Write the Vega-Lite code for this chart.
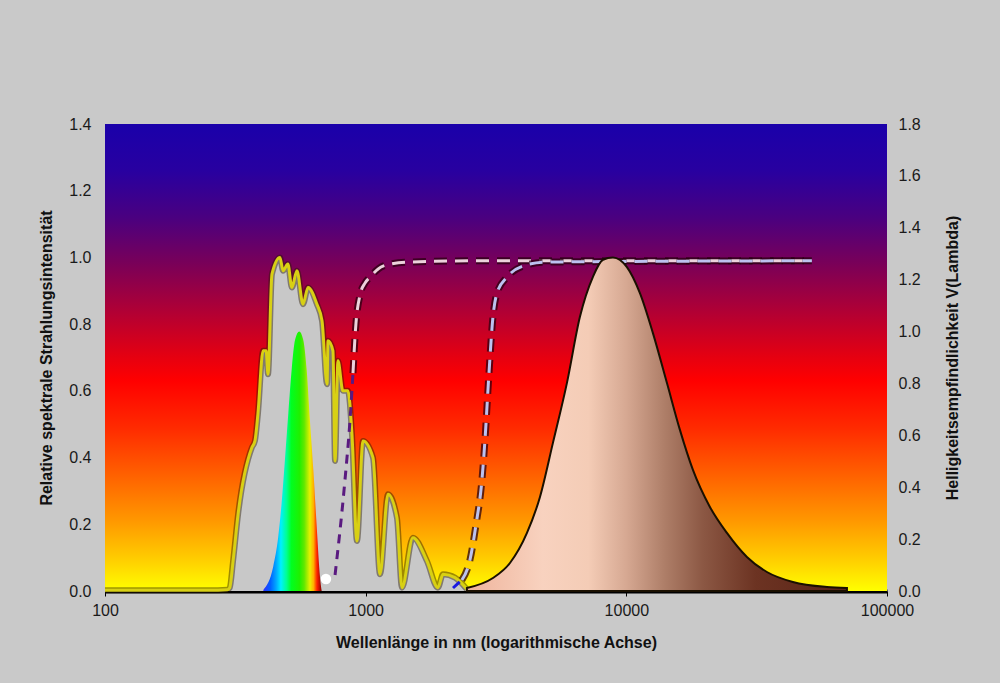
{
  "$schema": "https://vega.github.io/schema/vega-lite/v6.json",
  "width": 782,
  "height": 467,
  "padding": {"left": 38, "top": 116, "right": 61, "bottom": 36},
  "background": "#c9c9c9",
  "config": {
    "view": {"stroke": null},
    "font": "Liberation Sans",
    "axis": {
      "labelFont": "Liberation Sans",
      "labelFontSize": 16,
      "labelColor": "#1a1a1a",
      "titleFont": "Liberation Sans",
      "titleFontSize": 16,
      "titleFontWeight": "bold",
      "titleColor": "#111111",
      "grid": false
    },
    "axisX": {
      "domainColor": "#000000",
      "domainWidth": 4,
      "tickColor": "#000000",
      "tickSize": 5,
      "labelPadding": 6,
      "labelFlush": false,
      "titlePadding": 16
    },
    "axisY": {
      "domain": false,
      "ticks": false,
      "labelPadding": 14,
      "titlePadding": 14
    }
  },
  "datasets": {
    "bg": [{"x1": 100, "x2": 100000, "y1": 0, "y2": 1.4}],
    "solar": [
      {"wl": 100, "v": 0.002}, {"wl": 150, "v": 0.002}, {"wl": 200, "v": 0.002},
      {"wl": 250, "v": 0.002}, {"wl": 295, "v": 0.004}, {"wl": 301, "v": 0.01},
      {"wl": 310, "v": 0.09}, {"wl": 324, "v": 0.23}, {"wl": 366, "v": 0.43},
      {"wl": 376, "v": 0.45}, {"wl": 386, "v": 0.53}, {"wl": 404, "v": 0.72},
      {"wl": 415, "v": 0.72}, {"wl": 422, "v": 0.65}, {"wl": 437, "v": 0.95},
      {"wl": 469, "v": 1.0}, {"wl": 482, "v": 0.96}, {"wl": 503, "v": 0.98},
      {"wl": 521, "v": 0.91}, {"wl": 545, "v": 0.96}, {"wl": 575, "v": 0.86},
      {"wl": 601, "v": 0.91}, {"wl": 650, "v": 0.86}, {"wl": 680, "v": 0.81},
      {"wl": 711, "v": 0.62}, {"wl": 717, "v": 0.75}, {"wl": 749, "v": 0.72},
      {"wl": 763, "v": 0.39}, {"wl": 783, "v": 0.69}, {"wl": 818, "v": 0.6},
      {"wl": 855, "v": 0.6}, {"wl": 886, "v": 0.47}, {"wl": 926, "v": 0.15},
      {"wl": 977, "v": 0.45}, {"wl": 1067, "v": 0.4}, {"wl": 1135, "v": 0.05},
      {"wl": 1218, "v": 0.29}, {"wl": 1318, "v": 0.22}, {"wl": 1378, "v": 0.01},
      {"wl": 1518, "v": 0.16}, {"wl": 1718, "v": 0.09}, {"wl": 1893, "v": 0.01},
      {"wl": 1980, "v": 0.05}, {"wl": 2201, "v": 0.04}, {"wl": 2447, "v": 0.005}
    ],
    "c1a": [
      {"wl": 763, "v": 0.048}, {"wl": 833, "v": 0.333}, {"wl": 871, "v": 0.513},
      {"wl": 894, "v": 0.653}
    ],
    "c1b": [
      {"wl": 894, "v": 0.653}, {"wl": 918, "v": 0.803}, {"wl": 951, "v": 0.887},
      {"wl": 994, "v": 0.923}, {"wl": 1039, "v": 0.941}, {"wl": 1165, "v": 0.974},
      {"wl": 1440, "v": 0.986}, {"wl": 3000, "v": 0.99}, {"wl": 51500, "v": 0.99}
    ],
    "c2a": [
      {"wl": 2163, "v": 0.009}, {"wl": 2340, "v": 0.033}
    ],
    "c2b": [
      {"wl": 2340, "v": 0.033}, {"wl": 2512, "v": 0.093}, {"wl": 2649, "v": 0.198},
      {"wl": 2793, "v": 0.333}, {"wl": 2869, "v": 0.453}, {"wl": 2972, "v": 0.653},
      {"wl": 3078, "v": 0.821}, {"wl": 3190, "v": 0.893}, {"wl": 3486, "v": 0.941},
      {"wl": 4012, "v": 0.974}, {"wl": 4872, "v": 0.986}, {"wl": 51500, "v": 0.99}
    ],
    "thermal": [
      {"wl": 2446, "v": 0.009}, {"wl": 3078, "v": 0.039}, {"wl": 3577, "v": 0.084},
      {"wl": 4157, "v": 0.174}, {"wl": 4663, "v": 0.282}, {"wl": 5229, "v": 0.444},
      {"wl": 5918, "v": 0.624}, {"wl": 6637, "v": 0.822}, {"wl": 7445, "v": 0.942},
      {"wl": 8133, "v": 0.993}, {"wl": 8883, "v": 1.0}, {"wl": 10053, "v": 0.971},
      {"wl": 11276, "v": 0.893}, {"wl": 12648, "v": 0.773}, {"wl": 14309, "v": 0.624},
      {"wl": 16054, "v": 0.483}, {"wl": 18009, "v": 0.363}, {"wl": 20923, "v": 0.252},
      {"wl": 24316, "v": 0.174}, {"wl": 29013, "v": 0.102}, {"wl": 34618, "v": 0.057},
      {"wl": 43551, "v": 0.027}, {"wl": 58841, "v": 0.012}, {"wl": 70198, "v": 0.009}
    ],
    "dot": [{"wl": 704, "v": 0.036}],
    "vlambda": [
      {"wl": 405, "v": 0.004}, {"wl": 442, "v": 0.094}, {"wl": 462, "v": 0.209},
      {"wl": 476, "v": 0.339}, {"wl": 490, "v": 0.505}, {"wl": 505, "v": 0.686},
      {"wl": 520, "v": 0.852}, {"wl": 536, "v": 0.968}, {"wl": 556, "v": 1.0},
      {"wl": 576, "v": 0.968}, {"wl": 594, "v": 0.852}, {"wl": 611, "v": 0.659},
      {"wl": 630, "v": 0.466}, {"wl": 649, "v": 0.247}, {"wl": 668, "v": 0.054},
      {"wl": 678, "v": 0.0}
    ]
  },
  "layer": [
    {
      "layer": [
        {
          "data": {"name": "bg"},
          "mark": {
            "type": "rect",
            "fill": {
              "gradient": "linear", "x1": 0, "y1": 0, "x2": 0, "y2": 1,
              "stops": [
                {"offset": 0, "color": "#1a00aa"},
                {"offset": 0.1, "color": "#2800a0"},
                {"offset": 0.2, "color": "#4a0080"},
                {"offset": 0.3, "color": "#7a0058"},
                {"offset": 0.4, "color": "#b00035"},
                {"offset": 0.5, "color": "#e60010"},
                {"offset": 0.55, "color": "#ff0000"},
                {"offset": 0.65, "color": "#ff2a00"},
                {"offset": 0.75, "color": "#ff6000"},
                {"offset": 0.85, "color": "#ff9800"},
                {"offset": 0.93, "color": "#ffcc00"},
                {"offset": 1, "color": "#ffff00"}
              ]
            }
          },
          "encoding": {
            "x": {"field": "x1", "type": "quantitative", "scale": {"type": "log", "domain": [100, 100000], "nice": false}, "title": "Wellenlänge in nm (logarithmische Achse)", "axis": {"values": [100, 1000, 10000, 100000], "format": "d"}},
            "x2": {"field": "x2"},
            "y": {"field": "y1", "type": "quantitative", "scale": {"domain": [0, 1.4], "nice": false, "zero": true}, "title": "Relative spektrale Strahlungsintensität", "axis": {"values": [0, 0.2, 0.4, 0.6, 0.8, 1.0, 1.2, 1.4], "format": ".1f", "orient": "left"}},
            "y2": {"field": "y2"}
          }
        },
        {
          "data": {"name": "solar"},
          "mark": {"type": "area", "fill": "#c8c8c8", "interpolate": "monotone"},
          "encoding": {
            "x": {"field": "wl", "type": "quantitative", "title": "Wellenlänge in nm (logarithmische Achse)"},
            "y": {"field": "v", "type": "quantitative", "title": "Relative spektrale Strahlungsintensität"}
          }
        },
        {
          "data": {"name": "solar"},
          "mark": {"type": "line", "stroke": "#2a1a00", "strokeWidth": 6, "opacity": 0.45, "interpolate": "monotone"},
          "encoding": {
            "x": {"field": "wl", "type": "quantitative", "title": "Wellenlänge in nm (logarithmische Achse)"},
            "y": {"field": "v", "type": "quantitative", "title": "Relative spektrale Strahlungsintensität"}
          }
        },
        {
          "data": {"name": "solar"},
          "mark": {"type": "line", "stroke": "#d8d014", "strokeWidth": 3, "interpolate": "monotone"},
          "encoding": {
            "x": {"field": "wl", "type": "quantitative", "title": "Wellenlänge in nm (logarithmische Achse)"},
            "y": {"field": "v", "type": "quantitative", "title": "Relative spektrale Strahlungsintensität"}
          }
        },
        {
          "data": {"name": "c1a"},
          "mark": {"type": "line", "stroke": "#5a1a80", "strokeWidth": 3, "strokeDash": [9, 7], "interpolate": "monotone"},
          "encoding": {
            "x": {"field": "wl", "type": "quantitative", "title": "Wellenlänge in nm (logarithmische Achse)"},
            "y": {"field": "v", "type": "quantitative", "title": "Relative spektrale Strahlungsintensität"}
          }
        },
        {
          "data": {"name": "c1b"},
          "mark": {"type": "line", "stroke": "#2a0010", "strokeWidth": 7, "opacity": 0.75, "strokeDash": [13, 8], "interpolate": "monotone"},
          "encoding": {
            "x": {"field": "wl", "type": "quantitative", "title": "Wellenlänge in nm (logarithmische Achse)"},
            "y": {"field": "v", "type": "quantitative", "title": "Relative spektrale Strahlungsintensität"}
          }
        },
        {
          "data": {"name": "c1b"},
          "mark": {"type": "line", "stroke": "#ecd2dc", "strokeWidth": 3, "strokeDash": [13, 8], "interpolate": "monotone"},
          "encoding": {
            "x": {"field": "wl", "type": "quantitative", "title": "Wellenlänge in nm (logarithmische Achse)"},
            "y": {"field": "v", "type": "quantitative", "title": "Relative spektrale Strahlungsintensität"}
          }
        },
        {
          "data": {"name": "c2a"},
          "mark": {"type": "line", "stroke": "#1a1ae0", "strokeWidth": 3, "strokeDash": [9, 6]},
          "encoding": {
            "x": {"field": "wl", "type": "quantitative", "title": "Wellenlänge in nm (logarithmische Achse)"},
            "y": {"field": "v", "type": "quantitative", "title": "Relative spektrale Strahlungsintensität"}
          }
        },
        {
          "data": {"name": "c2b"},
          "mark": {"type": "line", "stroke": "#2a0010", "strokeWidth": 7, "opacity": 0.75, "strokeDash": [13, 8], "interpolate": "monotone"},
          "encoding": {
            "x": {"field": "wl", "type": "quantitative", "title": "Wellenlänge in nm (logarithmische Achse)"},
            "y": {"field": "v", "type": "quantitative", "title": "Relative spektrale Strahlungsintensität"}
          }
        },
        {
          "data": {"name": "c2b"},
          "mark": {"type": "line", "stroke": "#bcc2f0", "strokeWidth": 3, "strokeDash": [13, 8], "interpolate": "monotone"},
          "encoding": {
            "x": {"field": "wl", "type": "quantitative", "title": "Wellenlänge in nm (logarithmische Achse)"},
            "y": {"field": "v", "type": "quantitative", "title": "Relative spektrale Strahlungsintensität"}
          }
        },
        {
          "data": {"name": "thermal"},
          "mark": {
            "type": "area",
            "interpolate": "monotone",
            "stroke": "#1a1000",
            "strokeWidth": 2,
            "fill": {
              "gradient": "linear", "x1": 0, "y1": 0, "x2": 1, "y2": 0,
              "stops": [
                {"offset": 0, "color": "#efb49c"},
                {"offset": 0.2, "color": "#f8d2bf"},
                {"offset": 0.32, "color": "#f4ccb6"},
                {"offset": 0.42, "color": "#d6a892"},
                {"offset": 0.52, "color": "#ae7e68"},
                {"offset": 0.62, "color": "#8c5844"},
                {"offset": 0.76, "color": "#6c3322"},
                {"offset": 1, "color": "#5a2418"}
              ]
            }
          },
          "encoding": {
            "x": {"field": "wl", "type": "quantitative", "title": "Wellenlänge in nm (logarithmische Achse)"},
            "y": {"field": "v", "type": "quantitative", "title": "Relative spektrale Strahlungsintensität"}
          }
        },
        {
          "data": {"name": "dot"},
          "mark": {"type": "point", "filled": true, "fill": "#ffffff", "opacity": 1, "size": 110},
          "encoding": {
            "x": {"field": "wl", "type": "quantitative", "title": "Wellenlänge in nm (logarithmische Achse)"},
            "y": {"field": "v", "type": "quantitative", "title": "Relative spektrale Strahlungsintensität"}
          }
        }
      ]
    },
    {
      "layer": [
        {
          "data": {"name": "vlambda"},
          "mark": {
            "type": "area",
            "interpolate": "monotone",
            "fill": {
              "gradient": "linear", "x1": 0, "y1": 0, "x2": 1, "y2": 0,
              "stops": [
                {"offset": 0, "color": "#3030ff"},
                {"offset": 0.12, "color": "#0060ff"},
                {"offset": 0.22, "color": "#00a8ff"},
                {"offset": 0.3, "color": "#00f0ff"},
                {"offset": 0.4, "color": "#00ff90"},
                {"offset": 0.48, "color": "#00ff20"},
                {"offset": 0.62, "color": "#20f000"},
                {"offset": 0.7, "color": "#60e800"},
                {"offset": 0.8, "color": "#e8f000"},
                {"offset": 0.86, "color": "#ffb000"},
                {"offset": 0.92, "color": "#ff2000"},
                {"offset": 1, "color": "#800000"}
              ]
            }
          },
          "encoding": {
            "x": {"field": "wl", "type": "quantitative", "title": "Wellenlänge in nm (logarithmische Achse)"},
            "y": {"field": "v", "type": "quantitative", "scale": {"domain": [0, 1.8], "nice": false}, "title": "Helligkeitsempfindlichkeit V(Lambda)", "axis": {"orient": "right", "values": [0, 0.2, 0.4, 0.6, 0.8, 1.0, 1.2, 1.4, 1.6, 1.8], "format": ".1f", "labelPadding": 11, "titlePadding": 40, "titleAngle": 270}}
          }
        }
      ]
    }
  ],
  "resolve": {"scale": {"y": "independent"}}
}
